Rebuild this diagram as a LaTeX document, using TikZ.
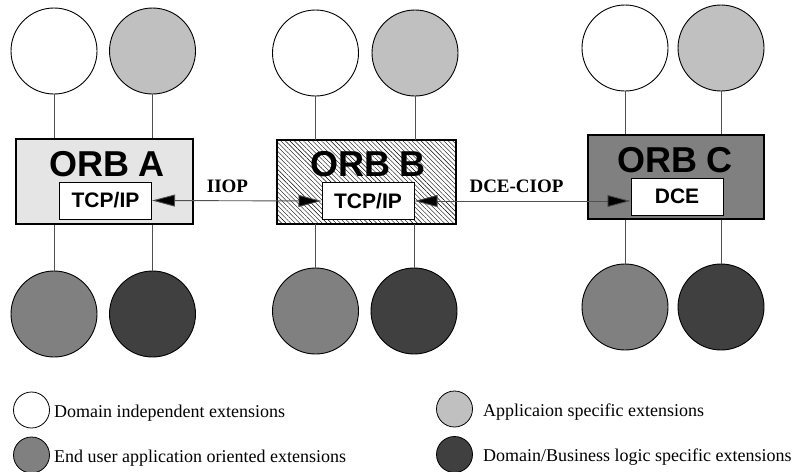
\documentclass[tikz,border=0pt]{standalone}
\usepackage{fontspec}
\setmainfont{Liberation Serif}
\newfontfamily\arialb{Liberation Sans}
\usetikzlibrary{arrows.meta,patterns.meta}
\definecolor{lgray}{HTML}{E5E5E5}
\definecolor{cgray}{HTML}{808080}
\definecolor{agray}{HTML}{C0C0C0}
\definecolor{dgray}{HTML}{404040}
\definecolor{lnc}{HTML}{505050}
\tikzset{
  ext/.style={circle,draw=black,line width=0.9pt,minimum size=86pt,inner sep=0pt},
  legc/.style={circle,draw=black,line width=0.8pt,minimum size=36pt,inner sep=0pt},
  orb/.style={rectangle,draw=black,line width=1.1pt,inner sep=0pt},
  inner/.style={rectangle,draw=black,line width=1pt,fill=white,inner sep=0pt,minimum width=92pt,minimum height=37pt,font=\arialb\bfseries\fontsize{21}{21}\selectfont},
  orbtxt/.style={font=\arialb\bfseries\fontsize{36}{36}\selectfont,inner sep=0pt},
  conn/.style={draw=lnc,line width=0.9pt},
  proto/.style={draw=lnc,line width=0.9pt,{Triangle[length=23pt,width=12pt,fill=black]}-{Triangle[length=23pt,width=12pt,fill=black]}},
  plabel/.style={font=\bfseries\fontsize{19}{19}\selectfont,inner sep=0pt,anchor=base},
  legtxt/.style={font=\fontsize{18}{18}\selectfont,inner sep=0pt,anchor=base west}
}
\begin{document}
\begin{tikzpicture}[x=1pt,y=-1pt]
\useasboundingbox (0,0) rectangle (799,471);
% ORB boxes
\node[orb,fill=lgray,minimum width=177pt,minimum height=85pt] (boxA) at (104.5,181.5) {};
\node[orb,pattern={Lines[angle=-45,distance=3.2pt,line width=0.4pt]},minimum width=179pt,minimum height=84pt] (boxB) at (366.5,182) {};
\node[orb,fill=cgray,minimum width=176pt,minimum height=84pt] (boxC) at (676,177) {};
\node[orbtxt] (tA) at (107,164.5) {ORB A};
\node[orbtxt] (tB) at (368,164) {ORB B};
\node[orbtxt] (tC) at (675,160) {ORB C};
\node[inner] (tcpA) at (105.5,200.5) {TCP/IP};
\node[inner] (tcpB) at (368,201) {TCP/IP};
\node[inner] (dce) at (677,196.5) {DCE};
% protocol arrows
\draw[proto] (tcpA.east) -- (tcpB.west);
\draw[proto] (tcpB.east) -- (tcpB.east -| dce.west);
\node[plabel] (iiop) at (227.5,192) {IIOP};
\node[plabel] (dceciop) at (516.5,192) {DCE-CIOP};
% extension circles
\node[ext,fill=white] (a1) at (54,51) {};
\node[ext,fill=agray] (a2) at (152.5,51) {};
\node[ext,fill=cgray] (a3) at (54,314) {};
\node[ext,fill=dgray] (a4) at (152.5,314) {};
\node[ext,fill=white] (b1) at (315.5,53) {};
\node[ext,fill=agray] (b2) at (415,53) {};
\node[ext,fill=cgray] (b3) at (315.5,311) {};
\node[ext,fill=dgray] (b4) at (414,311) {};
\node[ext,fill=white] (c1) at (625,48) {};
\node[ext,fill=agray] (c2) at (721,48) {};
\node[ext,fill=cgray] (c3) at (625,307) {};
\node[ext,fill=dgray] (c4) at (721,307) {};
\foreach \c/\b in {a1/boxA,a2/boxA,b1/boxB,b2/boxB,c1/boxC,c2/boxC}{
  \draw[conn] (\c) -- (\c |- \b.north);
}
\foreach \c/\b in {a3/boxA,a4/boxA,b3/boxB,b4/boxB,c3/boxC,c4/boxC}{
  \draw[conn] (\c) -- (\c |- \b.south);
}
% legend
\node[legc,fill=white] (l1) at (31.5,410) {};
\node[legc,fill=cgray] (l2) at (31.5,455) {};
\node[legc,fill=agray] (l3) at (454.5,409) {};
\node[legc,fill=dgray] (l4) at (454.5,454.5) {};
\node[legtxt] (lt1) at (54,417) {Domain independent extensions};
\node[legtxt] (lt2) at (54,462) {End user application oriented extensions};
\node[legtxt] (lt3) at (483,416) {Applicaion specific extensions};
\node[legtxt] (lt4) at (483,461) {Domain/Business logic specific extensions};
\end{tikzpicture}
\end{document}
